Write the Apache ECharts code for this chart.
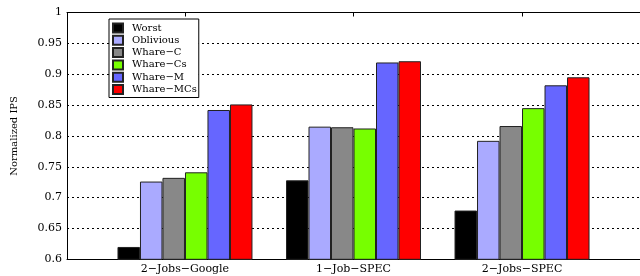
<!DOCTYPE html>
<html>
<head>
<meta charset="utf-8">
<script src="https://cdn.jsdelivr.net/npm/echarts@6/dist/echarts.min.js"></script>
<style>
html, body { margin: 0; padding: 0; background: #fff; }
#main { width: 640px; height: 276px; }
</style>
</head>
<body>
<div id="main"></div>
<script>
var categories = ['2\u2212Jobs\u2212Google', '1\u2212Job\u2212SPEC', '2\u2212Jobs\u2212SPEC'];
var seriesNames = ['Worst', 'Oblivious', 'Whare\u2212C', 'Whare\u2212Cs', 'Whare\u2212M', 'Whare\u2212MCs'];
var colors = ['#000000', '#aaaaff', '#888888', '#77ff00', '#6666ff', '#ff0000'];
var worst = [0.620, 0.728, 0.679];
var oblivious = [0.726, 0.815, 0.792];
var whareC = [0.732, 0.814, 0.816];
var whareCs = [0.741, 0.812, 0.845];
var whareM = [0.842, 0.919, 0.882];
var whareMCs = [0.851, 0.921, 0.895];
var values = [worst, oblivious, whareC, whareCs, whareM, whareMCs];

var myChart = echarts.init(document.getElementById('main'));
var font = 'DejaVu Serif';

var series = [];
for (var s = 0; s < values.length; s++) {
	var data = [];
	for (var i = 0; i < categories.length; i++) {
		data.push([i + 1, values[s][i]]);
	}
	series.push({
		name: seriesNames[s],
		type: 'bar',
		barWidth: 22.5,
		barGap: '0%',
		itemStyle: {
			color: colors[s],
			borderColor: '#222',
			borderWidth: 1
		},
		data: data
	});
}

var option = {
	animation: false,
	grid: {
		left: 67,
		top: 12.5,
		width: 574.6,
		height: 246.8
	},
	legend: {
		orient: 'vertical',
		left: 109,
		top: 19,
		padding: [3, 2, 2, 3],
		itemWidth: 10,
		itemHeight: 9,
		itemGap: 0.3,
		borderColor: '#000',
		borderWidth: 1,
		backgroundColor: '#fff',
		icon: 'rect',
		textStyle: { fontFamily: font, fontSize: 10, lineHeight: 12, color: '#000', padding: [0, 0, 0, 4] },
		data: seriesNames
	},
	xAxis: [{
		type: 'value',
		min: 0.3,
		max: 3.7,
		splitLine: { show: false },
		axisLine: { lineStyle: { color: '#000' } },
		axisTick: { show: false },
		axisLabel: {
			customValues: [1, 2, 3],
			margin: 4,
			fontFamily: font,
			fontSize: 11,
			color: '#000',
			formatter: function (v) { return categories[Math.round(v) - 1] || ''; }
		}
	}, {
		type: 'value',
		position: 'top',
		min: 0.3,
		max: 3.7,
		splitLine: { show: false },
		axisLine: { show: true, lineStyle: { color: '#000' } },
		axisTick: { show: true, inside: true, length: 4, customValues: [1, 2, 3], lineStyle: { color: '#000' } },
		axisLabel: { show: false }
	}],
	yAxis: {
		type: 'value',
		min: 0.6,
		max: 1,
		interval: 0.05,
		name: 'Normalized IPS',
		nameLocation: 'middle',
		nameGap: 48,
		nameTextStyle: { fontFamily: font, fontSize: 10, color: '#000' },
		axisLine: { show: true, lineStyle: { color: '#000' } },
		axisTick: { show: false },
		axisLabel: { margin: 5, fontFamily: font, fontSize: 11, color: '#000' },
		splitLine: { lineStyle: { color: '#000', type: [2, 3], width: 1 } }
	},
	series: series
};

myChart.setOption(option);
</script>
</body>
</html>
